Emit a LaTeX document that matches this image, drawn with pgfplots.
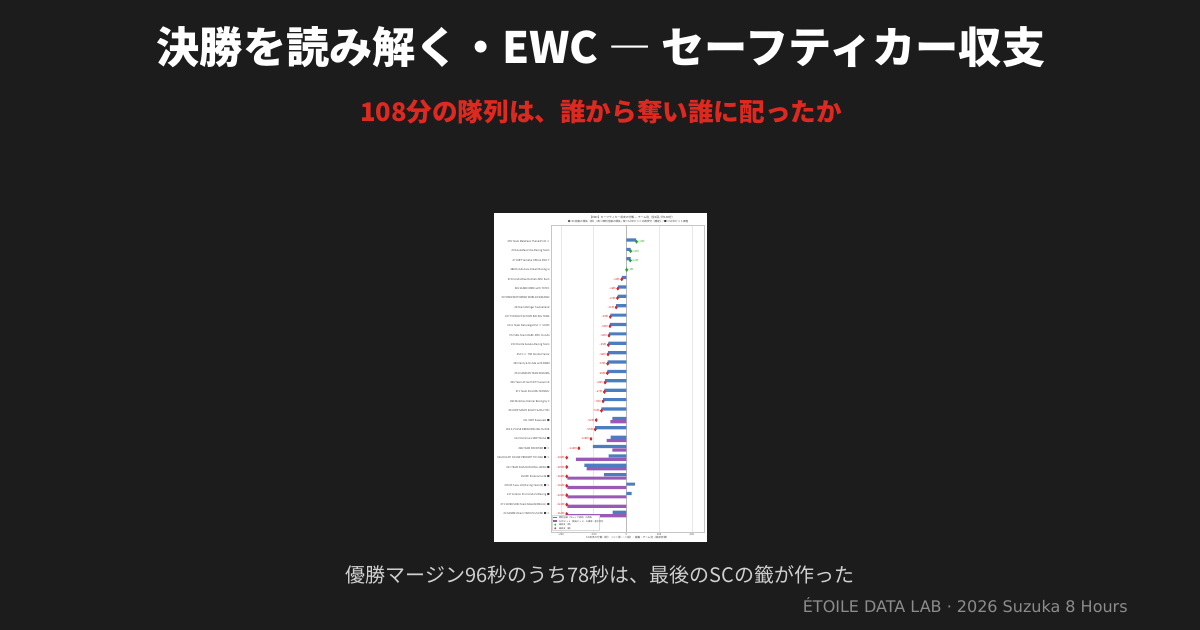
\documentclass[border=0pt]{standalone}
\usepackage{fontspec}
\setmainfont{Noto Sans CJK JP}
\newfontfamily\dejavu{DejaVu Sans}
\usepackage{pgfplots}
\pgfplotsset{compat=1.18}
\definecolor{bg}{RGB}{28,28,28}
\definecolor{subred}{RGB}{222,41,33}
\definecolor{capgray}{RGB}{208,208,208}
\definecolor{footgray}{RGB}{140,140,140}
\definecolor{barblue}{RGB}{76,125,192}
\definecolor{barpurple}{RGB}{155,89,182}
\definecolor{posgreen}{RGB}{44,160,44}
\definecolor{negred}{RGB}{214,39,40}
\newcommand{\tinyf}{\fontsize{1.3}{1.5}\selectfont}

\pgfplotstableread{
x y
30 0
13 1
13 2
1 3
-14 4
-26 5
-27 6
-31 7
-49 8
-50 9
-53 10
-55 11
-56 12
-57 13
-58 14
-65 15
-67 16
-71 17
-76 18
-43 19
-95 20
-48 21
-102 22
-54 23
-128 24
-68 25
26 26
16 27
-42 29
}\blueT

\pgfplotstableread{
x y
-49 19
-60 21
-43 22
-154 23
-121 24
-180 25
-180 26
-180 27
-180 28
-180 29
}\purpleT

\pgfplotstableread{
x y label
31 0 +31秒
13 1 +13秒
12 2 +12秒
1 3 +1秒
}\posT

\pgfplotstableread{
x y label
-14 4 −14秒
-26 5 −26秒
-27 6 −27秒
-31 7 −31秒
-49 8 −49秒
-50 9 −50秒
-53 10 −53秒
-55 11 −55秒
-56 12 −56秒
-57 13 −57秒
-58 14 −58秒
-65 15 −65秒
-67 16 −67秒
-71 17 −71秒
-76 18 −76秒
-92 19 −92秒
-95 20 −95秒
-108 21 −108秒
-145 22 −145秒
-182 23 −208秒
-182 24 −249秒
-182 25 −248秒
-182 26 −196秒
-182 27 −205秒
-182 28 −222秒
-182 29 −262秒
}\negT

\begin{document}
\begin{tikzpicture}
\fill[bg] (0,0) rectangle (600pt,315pt);
\path[use as bounding box] (0,0) rectangle (600pt,315pt);
\node[text=white, font=\bfseries\fontsize{21.6}{25}\selectfont] at (300.5pt,291.5pt) {決勝を読み解く・EWC ― セーフティカー収支};
\node[text=subred, font=\bfseries\fontsize{12.8}{16}\selectfont] at (300.5pt,259pt) {108分の隊列は、誰から奪い誰に配ったか};
\node[text=capgray, font=\fontsize{10}{12}\selectfont] at (300pt,27.5pt) {優勝マージン96秒のうち78秒は、最後のSCの籤が作った};
\node[text=footgray, font=\dejavu\fontsize{8}{10}\selectfont, anchor=east, inner sep=0pt] at (564pt,12.5pt) {ÉTOILE DATA LAB · 2026 Suzuka 8 Hours};
\fill[white] (247pt,44pt) rectangle (353.5pt,208.5pt);
\begin{axis}[
  at={(275.5pt,49pt)}, anchor=south west, scale only axis,
  width=76.5pt, height=153.5pt,
  xmin=-230, xmax=237, ymin=-1.78, ymax=30.92, y dir=reverse,
  ytick={0,...,29},
  yticklabels={{\#99 Team MaleFaze ThanksPrint ×},{\#78 AutoRace Ube Racing Team},{\#7 YART Yamaha Official EWC T},{\#88 Honda Asia-Dream Racing w},{\#73 Honda Blue Helmets MSC Kum},{\#45 SANKEI RIDE with TOTEC},{\#37 BMW MOTORRAD WORLD ENDURAN},{\#8 Team Bolliger Switzerland},{\#27 TOHOKU FACTORY RACING TEAM},{\#111 Team Naturarge KSC × SOHO},{\#72 SDG Team HARC-PRO. Honda},{\#30 Honda Suzuka Racing Team},{\#5 F.C.C. TSR Honda France},{\#50 Verity \& Honda with NWBI},{\#51 HANSHIN TEAM KODAMA},{\#40 Team ATJ with KTT Iwaumi E},{\#71 Team SUGURU SHIMIZU},{\#83 Motobox Kremer Racing by 3},{\#33 KRP SANYO KOGYO \& RS-ITOH},{\#11 YART Kawasaki ■},{\#90 S-PULSE DREAM RACING SUZUK},{\#12 Yoshimura SERT Motul ■},{\#88 TEAM FRONTIER ■ ×},{\#26 DUCATI HOUSE PREPART TOCHIGI ■ ×},{\#31 TEAM SUZUKI RACING JAPAN ■},{\#6 ERC Endurance \#6 ■},{\#39 KF Suzu 100 Racing Team(2) ■ ×},{\#17 Astemo Pro Honda SI Racing ■},{\#71 SHIKUSHIN Team NAGASHIMA(JL) ■},{\#0 SANMEI Team TARO PLUSONE ■ ×}},
  xtick={-200,-100,0,100,200},
  xticklabels={−200,−100,0,100,200},
  major tick length=0pt,
  ticklabel style={font=\tinyf, text=black!75, inner sep=0.5pt},
  xmajorgrids, grid style={gray!18, line width=0.25pt},
  axis line style={gray!45, line width=0.3pt},
  xlabel={SC収支の分解（秒）（＋＝得／−＝損）・縦軸：チーム別（純収支順）},
  xlabel style={font=\tinyf, text=black!75, at={(axis description cs:0.5,-0.018)}, anchor=center},
]
\draw[gray!55, line width=0.3pt] (axis cs:0,-1.78) -- (axis cs:0,30.92);
\addplot[xbar, bar width=0.34, bar shift=-0.18, fill=barblue, draw=none]
  table[x=x,y=y] {\blueT};
\addplot[xbar, bar width=0.34, bar shift=0.18, fill=barpurple, draw=none]
  table[x=x,y=y] {\purpleT};
\addplot[only marks, mark=diamond*, mark size=0.65pt, color=posgreen,
  nodes near coords, point meta=explicit symbolic,
  nodes near coords style={anchor=west, font=\tinyf, text=posgreen, inner sep=0.5pt}]
  table[x=x,y=y,meta=label] {\posT};
\addplot[only marks, mark=diamond*, mark size=0.65pt, color=negred,
  nodes near coords, point meta=explicit symbolic,
  nodes near coords style={anchor=east, font=\tinyf, text=negred, inner sep=0.8pt}]
  table[x=x,y=y,meta=label] {\negT};
\end{axis}
% legend
\filldraw[fill=white, draw=gray!30, line width=0.2pt] (276pt,49.9pt) rectangle (299.5pt,57.3pt);
\fill[barblue] (276.5pt,55.75pt) rectangle (278.7pt,56.55pt);
\fill[barpurple] (276.5pt,53.95pt) rectangle (278.7pt,54.75pt);
\fill[posgreen] (277.6pt,53.2pt) -- (278.05pt,52.65pt) -- (277.6pt,52.1pt) -- (277.15pt,52.65pt) -- cycle;
\fill[negred] (277.6pt,51.4pt) -- (278.05pt,50.85pt) -- (277.6pt,50.3pt) -- (277.15pt,50.85pt) -- cycle;
\begin{scope}[every node/.style={anchor=west, inner sep=0pt, font=\fontsize{1.1}{1.3}\selectfont, text=black!80}]
\node at (279.3pt,56.15pt) {隊列圧縮（ギャップ消失）の得失};
\node at (279.3pt,54.35pt) {SC中ピット（割安ピット）の損得・差引合計};
\node at (279.3pt,52.65pt) {純収支（得）};
\node at (279.3pt,50.85pt) {純収支（損）};
\end{scope}
\node[font=\fontsize{1.4}{1.6}\selectfont, text=black!80] at (316pt,206.3pt) {【EWC】セーフティカー収支の分解 — チーム別（全4回 / 計108分）};
\node[font=\fontsize{1.3}{1.5}\selectfont, text=black!80] at (314pt,204.3pt) {◆=SC前後の得失（秒）/ 青＝隊列圧縮の得失 / 紫＝SC中ピットの割安分（推定）/ ■＝SC中ピット実施};
\end{tikzpicture}
\end{document}
